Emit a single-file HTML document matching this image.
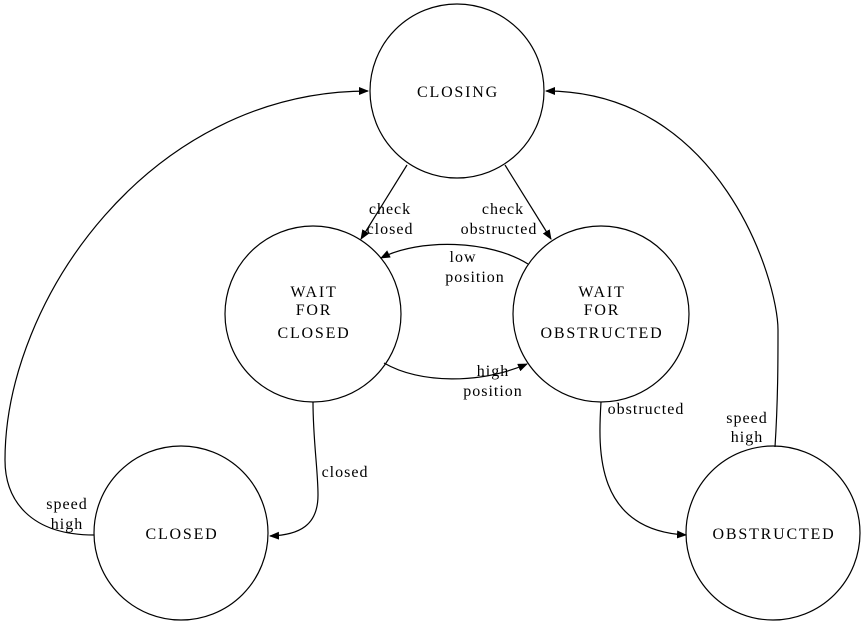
<!DOCTYPE html>
<html><head><meta charset="utf-8"><style>
html,body{margin:0;padding:0;background:#fff;width:865px;height:627px;overflow:hidden}
svg text{font-family:"Liberation Serif",serif;font-size:16px;fill:#000;letter-spacing:1px}
svg text.c{letter-spacing:1.8px}
</style></head><body>
<svg width="865" height="627" viewBox="0 0 865 627" xmlns="http://www.w3.org/2000/svg">
<defs><marker id="a" markerWidth="10" markerHeight="8" refX="9" refY="4" orient="auto" markerUnits="userSpaceOnUse"><path d="M0,0 L10,4 L0,8 z" fill="#000"/></marker></defs>
<g fill="none" stroke="#000" stroke-width="1.2">
<circle cx="457" cy="91" r="87"/>
<circle cx="313" cy="314" r="88"/>
<circle cx="601" cy="314" r="88"/>
<circle cx="181" cy="533" r="87"/>
<circle cx="773" cy="533" r="87"/>
<path d="M407,165 L361,239" marker-end="url(#a)"/>
<path d="M505,165 L551,239" marker-end="url(#a)"/>
<path d="M528,264 C490,240 420,238 381,258" marker-end="url(#a)"/>
<path d="M384,363 C420,384 480,384 527,364" marker-end="url(#a)"/>
<path d="M313,402 C313,440 318,470 318,495 C318,525 300,535 270,536" marker-end="url(#a)"/>
<path d="M601,402 C598,450 595,530 686,535" marker-end="url(#a)"/>
<path d="M94,535 C30,535 5,500 5,460 C5,300 150,91 368,91" marker-end="url(#a)"/>
<path d="M775,447 C778,400 778,360 778,330 C778,280 720,91 546,91" marker-end="url(#a)"/>
</g>
<g text-anchor="middle">
<text class="c" x="458" y="97">CLOSING</text>
<text class="c" x="314" y="297">WAIT</text><text class="c" x="314" y="315">FOR</text><text class="c" x="314" y="338">CLOSED</text>
<text class="c" x="602" y="297">WAIT</text><text class="c" x="602" y="315">FOR</text><text class="c" x="602" y="338">OBSTRUCTED</text>
<text class="c" x="182" y="539">CLOSED</text>
<text class="c" x="774" y="539">OBSTRUCTED</text>
<text x="390" y="214">check</text><text x="390" y="234">closed</text>
<text x="503" y="214">check</text><text x="499" y="234">obstructed</text>
<text x="463" y="262">low</text><text x="475" y="282">position</text>
<text x="493" y="376">high</text><text x="493" y="396">position</text>
<text x="345" y="477">closed</text>
<text x="646" y="414">obstructed</text>
<text x="67" y="509">speed</text><text x="67" y="529">high</text>
<text x="747" y="423">speed</text><text x="747" y="442">high</text>
</g>
</svg>
</body></html>
